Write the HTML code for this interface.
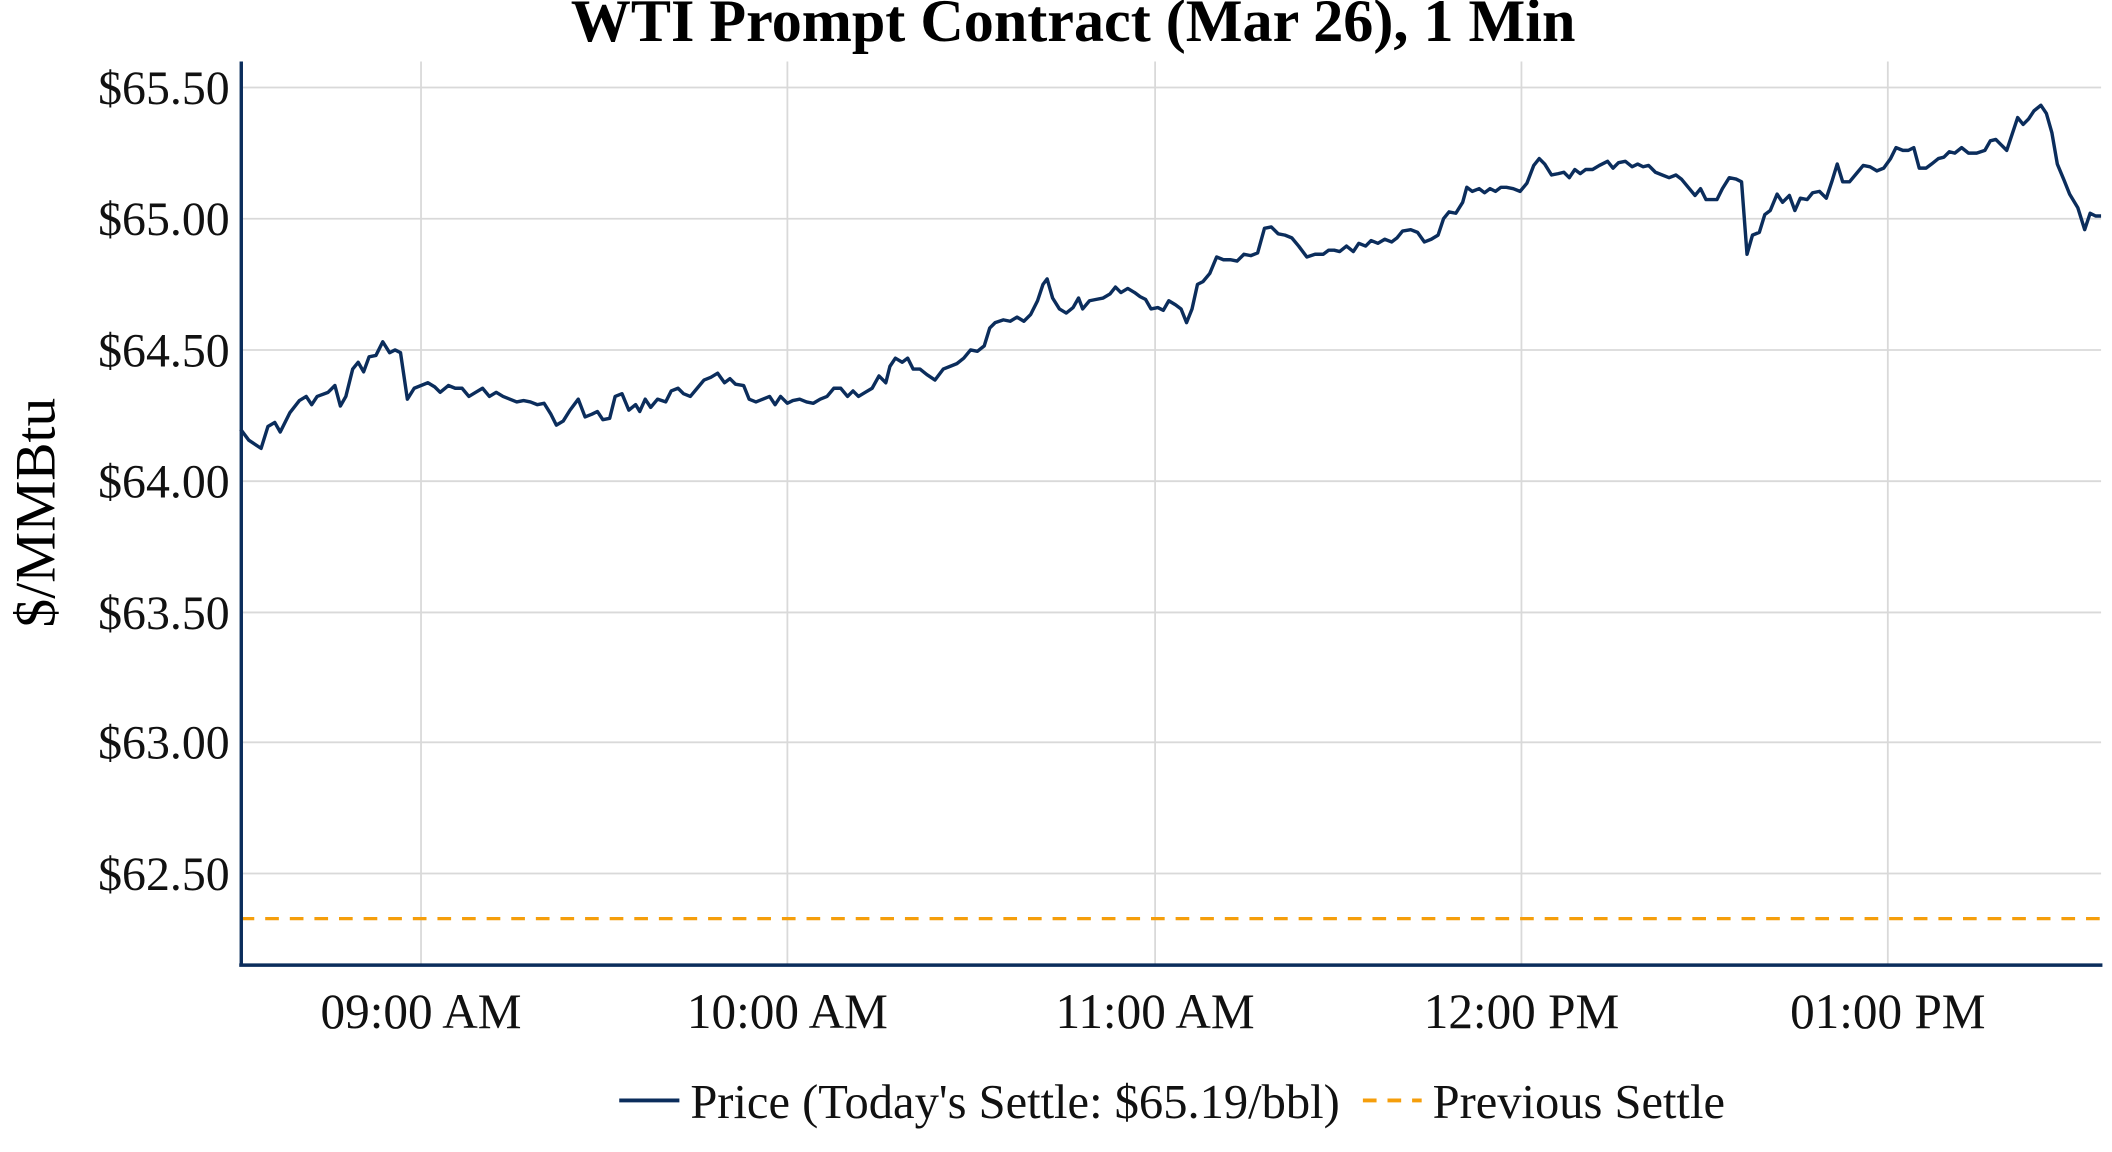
<!DOCTYPE html>
<html><head><meta charset="utf-8"><style>html,body{margin:0;padding:0;background:#fff;}svg{display:block;}</style></head>
<body>
<svg width="2112" height="1152" viewBox="0 0 1545 842.7" preserveAspectRatio="none" xmlns="http://www.w3.org/2000/svg" font-family="Liberation Serif, serif">
<rect width="1545" height="843" fill="#fff"/>
<g stroke="#d9d9d9" stroke-width="1.3">
<line x1="176" x2="1537" y1="64" y2="64"/><line x1="176" x2="1537" y1="160" y2="160"/><line x1="176" x2="1537" y1="256" y2="256"/><line x1="176" x2="1537" y1="352" y2="352"/><line x1="176" x2="1537" y1="448" y2="448"/><line x1="176" x2="1537" y1="543" y2="543"/><line x1="176" x2="1537" y1="639" y2="639"/>
<line x1="308" x2="308" y1="45" y2="706"/><line x1="576" x2="576" y1="45" y2="706"/><line x1="845" x2="845" y1="45" y2="706"/><line x1="1113" x2="1113" y1="45" y2="706"/><line x1="1381" x2="1381" y1="45" y2="706"/>
</g>
<line x1="176" x2="1537" y1="672" y2="672" stroke="#f59e0b" stroke-width="2.4" stroke-dasharray="10,8"/>
<polyline fill="none" stroke="#0b2d5c" stroke-width="2.5" stroke-linejoin="round" points="176,314 182,322 191,328 196,312 201,309 205,316 212,302 219,293 224,290 228,296 232,290 240,287 245,282 249,297 253,290 258,270 262,265 266,272 270,261 275,260 280,250 285,258 289,256 293,258 298,292 303,284 308,282 313,280 318,283 322,287 328,282 333,284 338,284 343,290 348,287 353,284 358,290 363,287 368,290 373,292 378,294 383,293 388,294 393,296 398,295 403,303 407,311 412,308 417,300 423,292 428,305 433,303 437,301 441,307 446,306 450,290 455,288 460,300 465,296 468,301 472,292 476,298 481,292 487,294 491,286 496,284 500,288 505,290 510,284 515,278 520,276 525,273 530,280 534,277 538,281 544,282 548,292 553,294 558,292 563,290 567,296 571,290 576,295 580,293 585,292 590,294 595,295 600,292 605,290 610,284 615,284 620,290 624,286 628,290 633,287 638,284 643,275 648,280 651,268 655,262 660,265 664,262 668,270 673,270 678,274 684,278 690,270 695,268 700,266 705,262 710,256 715,257 720,253 724,240 728,236 734,234 739,235 744,232 749,235 754,230 759,220 763,208 766,204 770,218 775,226 780,229 785,225 789,218 792,226 797,220 802,219 807,218 812,215 816,210 820,214 825,211 830,214 834,217 838,219 842,226 847,225 851,227 855,220 860,223 864,226 868,236 872,226 876,208 880,206 885,200 890,188 895,190 900,190 905,191 910,186 915,187 920,185 925,167 930,166 935,171 940,172 945,174 950,180 956,188 962,186 968,186 972,183 976,183 980,184 985,180 990,184 994,178 999,180 1003,176 1008,178 1013,175 1018,177 1022,174 1026,169 1032,168 1037,170 1042,177 1047,175 1052,172 1056,160 1060,155 1065,156 1070,148 1073,137 1077,140 1082,138 1086,141 1090,138 1094,140 1098,137 1102,137 1107,138 1112,140 1117,134 1122,121 1126,116 1130,120 1135,128 1140,127 1144,126 1148,130 1152,124 1156,127 1160,124 1165,124 1170,121 1176,118 1180,123 1184,119 1189,118 1194,122 1198,120 1202,122 1206,121 1211,126 1216,128 1221,130 1226,128 1230,131 1235,137 1240,143 1244,138 1248,146 1252,146 1256,146 1260,138 1265,130 1270,131 1274,133 1278,186 1282,172 1287,170 1291,157 1295,154 1300,142 1304,148 1309,143 1313,154 1317,145 1322,146 1326,141 1331,140 1336,145 1340,133 1344,120 1348,133 1353,133 1358,127 1363,121 1368,122 1373,125 1378,123 1383,116 1387,108 1392,110 1396,110 1400,108 1404,123 1409,123 1413,120 1418,116 1422,115 1426,111 1430,112 1435,108 1440,112 1446,112 1452,110 1456,103 1460,102 1464,106 1468,110 1472,98 1476,86 1480,91 1484,87 1488,81 1493,77 1497,83 1501,97 1505,120 1510,132 1514,142 1520,152 1525,168 1529,156 1533,158 1537,158"/>
<line x1="176.5" x2="176.5" y1="45" y2="707" stroke="#0b2d5c" stroke-width="2.5"/>
<line x1="175" x2="1538" y1="706" y2="706" stroke="#0b2d5c" stroke-width="2.5"/>
<g font-size="35" fill="#111" text-anchor="end">
<text x="168" y="76">$65.50</text><text x="168" y="172">$65.00</text><text x="168" y="268">$64.50</text><text x="168" y="364">$64.00</text><text x="168" y="460">$63.50</text><text x="168" y="555">$63.00</text><text x="168" y="651">$62.50</text>
</g>
<g font-size="36" fill="#111" text-anchor="middle">
<text x="308" y="752">09:00 AM</text><text x="576" y="752">10:00 AM</text><text x="845" y="752">11:00 AM</text><text x="1113" y="752">12:00 PM</text><text x="1381" y="752">01:00 PM</text>
</g>
<text x="785" y="30" font-size="44" font-weight="bold" text-anchor="middle" fill="#000">WTI Prompt Contract (Mar 26), 1 Min</text>
<text transform="translate(40,375) rotate(-90)" font-size="42" text-anchor="middle" fill="#000">$/MMBtu</text>
<line x1="453" x2="497" y1="805" y2="805" stroke="#0b2d5c" stroke-width="2.8"/>
<text x="505" y="818" font-size="35.5" fill="#111">Price (Today's Settle: $65.19/bbl)</text>
<line x1="997" x2="1040" y1="805" y2="805" stroke="#f59e0b" stroke-width="2.8" stroke-dasharray="10,8"/>
<text x="1048" y="818" font-size="35.5" fill="#111">Previous Settle</text>
</svg>
</body></html>
